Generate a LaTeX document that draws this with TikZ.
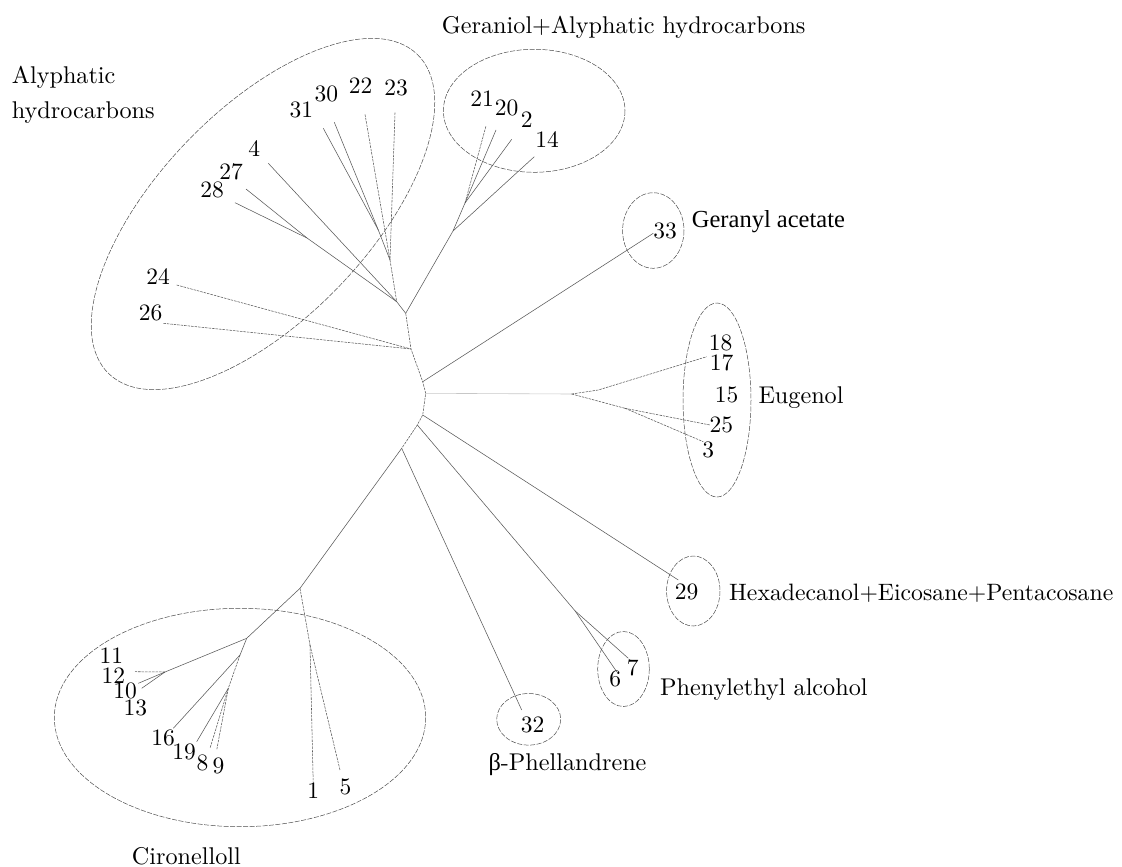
\documentclass[tikz,border=0pt]{standalone}
\usepackage{fontspec}
\newfontfamily\timesf{Liberation Serif}
\newcommand{\nm}[1]{\scalebox{2.35}{#1}}
\newcommand{\tx}[1]{\scalebox{2.42}{#1}}
\begin{document}
\begin{tikzpicture}[x=1pt,y=-1pt,
  num/.style={inner sep=0pt, anchor=center},
  lab/.style={inner sep=0pt, anchor=base west},
  br/.style={draw=black!65, line width=0.55pt},
  brd/.style={br, dash pattern=on 2.5pt off 1pt},
  faint/.style={draw=black!22, line width=0.6pt},
  grp/.style={draw=black!70, line width=0.5pt, dash pattern=on 5pt off 1.5pt}]
\useasboundingbox (0,0) rectangle (1122,867);

% junctions
\coordinate (P) at (405.7,313.3);
\coordinate (B1) at (411,349);
\coordinate (B2) at (422.7,381.7);
\coordinate (B3) at (425.7,393.3);
\coordinate (B4) at (422.7,415);
\coordinate (B5) at (417.3,425);
\coordinate (B6) at (401.7,448.3);
\coordinate (Q) at (396.7,301.7);
\coordinate (R) at (390,260);
\coordinate (J3031) at (378.3,230);
\coordinate (J2728) at (307,238);
\coordinate (A) at (453,231);
\coordinate (Bg) at (465,203);
\coordinate (E) at (571.7,394);
\coordinate (E1) at (598.3,390);
\coordinate (E2) at (625,408.3);
\coordinate (S67) at (575,610.8);
\coordinate (M) at (300,588.3);
\coordinate (C1) at (246.7,638.3);
\coordinate (C2) at (165,672);
\coordinate (C3) at (240,655);
\coordinate (C4) at (228.3,688.3);
\coordinate (C5) at (310,645);

% leaf ends
\coordinate (e31) at (323.3,128.3);
\coordinate (e30) at (334.3,122.3);
\coordinate (e22) at (365,114.3);
\coordinate (e23) at (395,112.7);
\coordinate (e4) at (268.3,163.3);
\coordinate (e27) at (246,189);
\coordinate (e28) at (235,202.7);
\coordinate (e24) at (176.7,285);
\coordinate (e26) at (163.3,323.3);
\coordinate (e21) at (486,126);
\coordinate (e20) at (496,130);
\coordinate (e2) at (511.7,139.3);
\coordinate (e14) at (534.3,156.7);
\coordinate (e33) at (653.3,233.3);
\coordinate (e17) at (706.7,356.7);
\coordinate (e25) at (710,425);
\coordinate (e3) at (703.3,441.7);
\coordinate (e29) at (678.3,580);
\coordinate (e6) at (616.7,671.7);
\coordinate (e7) at (628.3,658.3);
\coordinate (e32) at (521.7,710);
\coordinate (e12) at (135,671.7);
\coordinate (e10) at (138.3,683.3);
\coordinate (e13) at (141.7,688.3);
\coordinate (e16) at (173.3,728.3);
\coordinate (e19) at (196.7,741.7);
\coordinate (e8) at (210,748.3);
\coordinate (e9) at (216.7,750);
\coordinate (e1) at (313.3,786.7);
\coordinate (e5) at (340,770);

% group outlines
\draw[grp, rotate around={46:(263,214)}] (263,214) ellipse [x radius=222, y radius=105];
\draw[grp] (534.2,110.8) ellipse [x radius=90.8, y radius=61.5];
\draw[grp] (653.3,230.5) ellipse [x radius=30.7, y radius=37.8];
\draw[grp] (717,400) ellipse [x radius=34, y radius=97];
\draw[grp] (693.3,591) ellipse [x radius=26.7, y radius=35];
\draw[grp] (623.5,669) ellipse [x radius=25.8, y radius=37.5];
\draw[grp] (528.7,719.3) ellipse [x radius=32, y radius=25.8];
\draw[grp] (240,717.5) ellipse [x radius=185.7, y radius=109.2];

% backbone
\draw[brd] (P) -- (B1) -- (B2) -- (B3) -- (B4) -- (B5) -- (B6);
% aliphatic cluster
\draw[br] (Q) -- (P);
\draw[brd] (R) -- (Q);
\draw[br] (J3031) -- (R);
\draw[br] (e31) -- (J3031);
\draw[br] (e30) -- (J3031);
\draw[brd] (e22) -- (R);
\draw[brd] (e23) -- (R);
\draw[br] (e4) -- (Q);
\draw[br] (e27) -- (J2728);
\draw[br] (e28) -- (J2728);
\draw[br] (J2728) -- (Q);
\draw[brd] (e24) -- (B1);
\draw[brd] (e26) -- (B1);
% geraniol cluster
\draw[br] (P) -- (A);
\draw[br] (A) -- (Bg);
\draw[brd] (Bg) -- (e21);
\draw[br] (Bg) -- (e20);
\draw[br] (Bg) -- (e2);
\draw[br] (A) -- (e14);
% geranyl acetate
\draw[br] (B2) -- (e33);
% eugenol
\draw[faint] (B3) -- (E);
\draw[brd] (E) -- (E1) -- (e17);
\draw[brd] (E) -- (E2);
\draw[brd] (E2) -- (e25);
\draw[brd] (E2) -- (e3);
% 29
\draw[br] (B4) -- (e29);
% 6,7
\draw[br] (B5) -- (S67);
\draw[br] (S67) -- (e6);
\draw[br] (S67) -- (e7);
% 32
\draw[br] (B6) -- (e32);
% cironellol
\draw[br] (B6) -- (M) -- (C1);
\draw[br] (C1) -- (C2);
\draw[brd] (C2) -- (e12);
\draw[br] (C2) -- (e10);
\draw[br] (C2) -- (e13);
\draw[br] (C1) -- (C3);
\draw[br] (C3) -- (e16);
\draw[brd] (C3) -- (C4);
\draw[br] (C4) -- (e19);
\draw[brd] (C4) -- (e8);
\draw[brd] (C4) -- (e9);
\draw[brd] (M) -- (C5);
\draw[brd] (C5) -- (e1);
\draw[brd] (C5) -- (e5);

% numbers
\node[num] (n31) at (301.3,110) {\nm{31}};
\node[num] (n30) at (326.3,93.7) {\nm{30}};
\node[num] (n22) at (360.5,85.7) {\nm{22}};
\node[num] (n23) at (396.2,88) {\nm{23}};
\node[num] (n4) at (254.2,148.3) {\nm{4}};
\node[num] (n27) at (231,171.7) {\nm{27}};
\node[num] (n28) at (212,190.3) {\nm{28}};
\node[num] (n24) at (158,276.7) {\nm{24}};
\node[num] (n26) at (150.5,313.3) {\nm{26}};
\node[num] (n21) at (482.2,98.3) {\nm{21}};
\node[num] (n20) at (506.7,107.5) {\nm{20}};
\node[num] (n2) at (526.7,120) {\nm{2}};
\node[num] (n14) at (547.2,139.2) {\nm{14}};
\node[num] (n33) at (665,230.5) {\nm{33}};
\node[num] (n18) at (720.5,342.7) {\nm{18}};
\node[num] (n17) at (721.7,363.3) {\nm{17}};
\node[num] (n15) at (726.5,395) {\nm{15}};
\node[num] (n25) at (721.3,425) {\nm{25}};
\node[num] (n3) at (708.3,449.7) {\nm{3}};
\node[num] (n29) at (686.7,591.7) {\nm{29}};
\node[num] (n6) at (615.2,678.7) {\nm{6}};
\node[num] (n7) at (632.8,667.7) {\nm{7}};
\node[num] (n32) at (532.5,725) {\nm{32}};
\node[num] (n11) at (111.3,655.7) {\nm{11}};
\node[num] (n12) at (113.3,675.3) {\nm{12}};
\node[num] (n10) at (125,691) {\nm{10}};
\node[num] (n13) at (135.3,708.3) {\nm{13}};
\node[num] (n16) at (163,738) {\nm{16}};
\node[num] (n19) at (184.2,751.7) {\nm{19}};
\node[num] (n8) at (202.5,763.3) {\nm{8}};
\node[num] (n9) at (218.5,765.7) {\nm{9}};
\node[num] (n1) at (313.3,790.3) {\nm{1}};
\node[num] (n5) at (345.5,786.7) {\nm{5}};

% group labels
\node[lab] (lAly1) at (11.7,83.3) {\tx{Alyphatic}};
\node[lab] (lAly2) at (11.7,118) {\tx{hydrocarbons}};
\node[lab] (lGer) at (441.7,33.3) {\tx{Geraniol+Alyphatic hydrocarbons}};
\node[lab] (lGac) at (691.7,227.3) {\scalebox{2.45}{\timesf Geranyl acetate}};
\node[lab] (lEug) at (758.3,403.3) {\tx{Eugenol}};
\node[lab] (lHex) at (729,600) {\scalebox{2.37}{Hexadecanol+Eicosane+Pentacosane}};
\node[lab] (lPhe) at (660,695) {\tx{Phenylethyl alcohol}};
\node[lab] (lBet) at (488.3,770) {\tx{{\timesf β}-Phellandrene}};
\node[lab] (lCir) at (131.7,864) {\tx{Cironelloll}};
\end{tikzpicture}
\end{document}
